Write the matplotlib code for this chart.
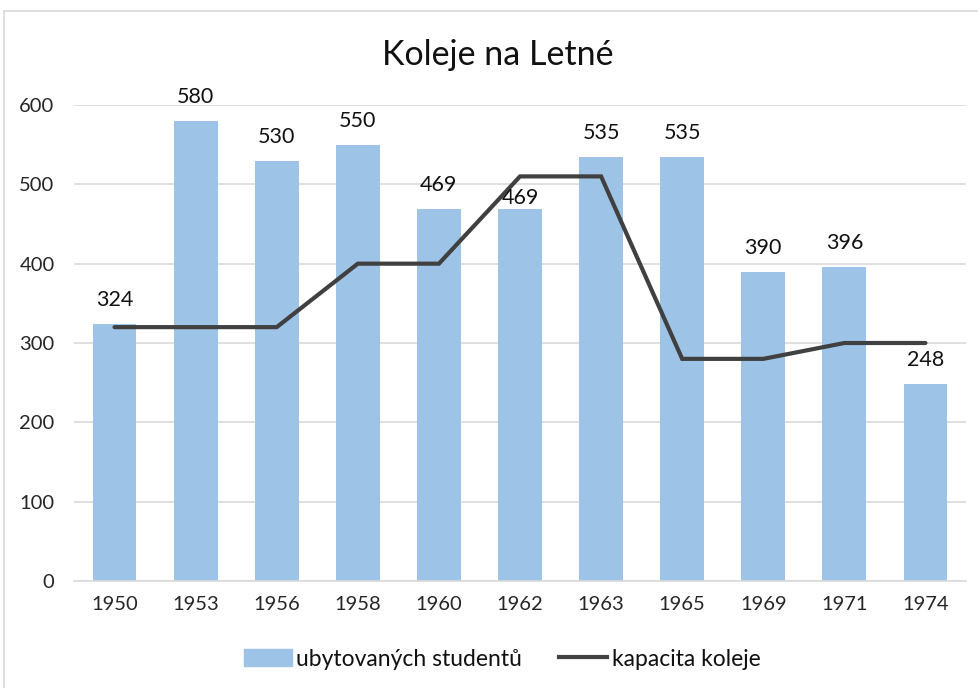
import matplotlib.pyplot as plt
import numpy as np
from matplotlib.lines import Line2D

plt.rcParams['font.family'] = ['Lato', 'DejaVu Sans']

years = ['1950', '1953', '1956', '1958', '1960', '1962', '1963', '1965', '1969', '1971', '1974']
students = [324, 580, 530, 550, 469, 469, 535, 535, 390, 396, 248]
capacity = [320, 320, 320, 400, 400, 510, 510, 280, 280, 300, 300]

bar_color = '#9DC3E6'
line_color = '#404040'
grid_color = '#D9D9D9'

fig = plt.figure(figsize=(9.79, 6.88), dpi=100)
ax = fig.add_axes([74 / 979, 1 - 581 / 688, 892 / 979, 476 / 688])

x = np.arange(len(years))
ax.bar(x, students, width=0.54, color=bar_color, zorder=2, label='ubytovaných studentů')
ax.plot(x, capacity, color=line_color, lw=3.0, solid_capstyle='round',
        solid_joinstyle='miter', zorder=3, label='kapacita koleje')

# data labels above the bars (1962 label sits lower, as in the original)
for i, v in enumerate(students):
    off = 11 if years[i] == '1962' else 24
    ax.annotate(str(v), (i, v), xytext=(0, off), textcoords='offset pixels',
                ha='center', va='center', fontsize=15.5, color='#111111', zorder=4)

ax.set_xlim(-0.5, len(years) - 0.5)
ax.set_ylim(0, 600)
ax.set_yticks(range(0, 601, 100))
ax.set_xticks(x)
ax.set_xticklabels(years)
ax.tick_params(axis='both', length=0, labelsize=14.5, colors='#262626')
ax.tick_params(axis='y', pad=14)
ax.tick_params(axis='x', pad=11)
ax.yaxis.grid(True, color=grid_color, lw=1.2, zorder=0)
for s in ['top', 'right', 'left']:
    ax.spines[s].set_visible(False)
ax.spines['bottom'].set_color(grid_color)
ax.spines['bottom'].set_linewidth(1.2)

fig.text(498 / 979, 1 - 55 / 688, 'Koleje na Letné', ha='center', va='center',
         fontsize=24.5, color='#111111')

handles = [plt.Rectangle((0, 0), 1, 1, color=bar_color),
           Line2D([0], [0], color=line_color, lw=3.0)]
fig.legend(handles, ['ubytovaných studentů', 'kapacita koleje'], loc='center',
           bbox_to_anchor=(502 / 979, 1 - 659 / 688), ncol=2, frameon=False,
           fontsize=16.5, handlelength=2.1, handletextpad=0.2, columnspacing=1.6,
           labelcolor='#111111')

# chart area border (top and left visible in the crop)
fig.add_artist(Line2D([4 / 979, 1], [1 - 11 / 688, 1 - 11 / 688], color='#D9D9D9', lw=1.2))
fig.add_artist(Line2D([4 / 979, 4 / 979], [0, 1 - 11 / 688], color='#D9D9D9', lw=1.2))

fig.savefig('out.png', dpi=100)
